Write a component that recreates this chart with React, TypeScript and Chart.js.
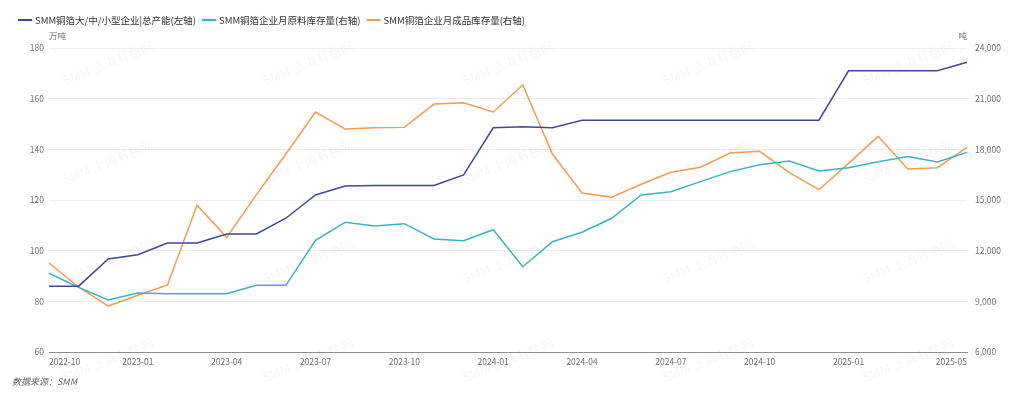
import React, { useEffect, useRef } from "react";
import { Chart, registerables } from "chart.js";

Chart.register(...registerables);

const months = [
  "2022-10", "2022-11", "2022-12", "2023-01", "2023-02", "2023-03", "2023-04", "2023-05",
  "2023-06", "2023-07", "2023-08", "2023-09", "2023-10", "2023-11", "2023-12", "2024-01",
  "2024-02", "2024-03", "2024-04", "2024-05", "2024-06", "2024-07", "2024-08", "2024-09",
  "2024-10", "2024-11", "2024-12", "2025-01", "2025-02", "2025-03", "2025-04", "2025-05",
];

const shownMonths = [
  "2022-10", "2023-01", "2023-04", "2023-07", "2023-10", "2024-01",
  "2024-04", "2024-07", "2024-10", "2025-01", "2025-05",
];

// 万吨 (left axis)
const capacity = [
  86, 86, 96.7, 98.4, 103, 103, 106.6, 106.6, 112.8, 122, 125.5, 125.7, 125.7, 125.7, 129.9, 148.5,
  148.9, 148.5, 151.5, 151.5, 151.5, 151.5, 151.5, 151.5, 151.5, 151.5, 151.5, 171, 171, 171, 171, 174.4,
];

// 吨 (right axis)
const rawStock = [
  10660, 9830, 9080, 9490, 9450, 9450, 9450, 9950, 9950, 12610, 13680, 13460, 13600, 12690, 12590, 13240,
  11050, 12530, 13090, 13920, 15300, 15490, 16090, 16680, 17090, 17310, 16720, 16910, 17270, 17570, 17250, 17820,
];

const finishedStock = [
  11270, 9850, 8720, 9360, 9970, 14690, 12790, 15300, 17720, 20210, 19200, 19280, 19300, 20680, 20760, 20210,
  21810, 17720, 15410, 15160, 15930, 16640, 16940, 17780, 17880, 16620, 15610, 17170, 18770, 16840, 16910, 18120,
];

const seriesNames = [
  "SMM铜箔大/中/小型企业|总产能(左轴)",
  "SMM铜箔企业月原料库存量(右轴)",
  "SMM铜箔企业月成品库存量(右轴)",
];
const seriesColors = ["#3f4a94", "#3ab3c7", "#f39c50"];

const leftUnit = "万吨";
const rightUnit = "吨";
const sourceText = "数据来源：SMM";
const watermarkText = "SMM 上海有色网";

const FONT = "'Noto Sans CJK SC', 'Noto Sans', sans-serif";

export default function App() {
  const ref = useRef<HTMLCanvasElement | null>(null);

  useEffect(() => {
    if (!ref.current) return;

    const overlay = {
      id: "overlay",
      beforeDatasetsDraw(chart: any) {
        const ctx = chart.ctx;
        ctx.save();
        ctx.font = `13px ${FONT}`;
        ctx.fillStyle = "rgba(0,0,0,0.035)";
        ctx.textAlign = "center";
        ctx.textBaseline = "middle";
        for (let cx = 108; cx < 1024; cx += 200) {
          for (let cy = 63; cy < 399; cy += 99) {
            ctx.save();
            ctx.translate(cx, cy);
            ctx.rotate(-0.38);
            ctx.fillText(watermarkText, 0, 0);
            ctx.restore();
          }
        }
        ctx.restore();
      },
      afterDraw(chart: any) {
        const ctx = chart.ctx;
        const area = chart.chartArea;
        const x = chart.scales.x;
        ctx.save();
        // legend
        ctx.font = `9.5px ${FONT}`;
        ctx.textBaseline = "middle";
        let lx = 18;
        const ly = 20;
        seriesNames.forEach((name, i) => {
          ctx.strokeStyle = seriesColors[i];
          ctx.lineWidth = 2;
          ctx.beginPath();
          ctx.moveTo(lx, ly);
          ctx.lineTo(lx + 14, ly);
          ctx.stroke();
          ctx.fillStyle = "#333";
          ctx.textAlign = "left";
          ctx.fillText(name, lx + 17, ly);
          lx += 17 + ctx.measureText(name).width + 6;
        });
        // units
        ctx.font = `8.5px ${FONT}`;
        ctx.fillStyle = "#6e7079";
        ctx.textAlign = "left";
        ctx.fillText(leftUnit, area.left, 36);
        ctx.textAlign = "right";
        ctx.fillText(rightUnit, area.right, 36);
        // x labels
        ctx.font = `8.5px ${FONT}`;
        ctx.textBaseline = "top";
        months.forEach((m, i) => {
          if (!shownMonths.includes(m)) return;
          const px = x.getPixelForValue(i);
          ctx.textAlign = i === 0 ? "left" : i === months.length - 1 ? "right" : "center";
          ctx.fillText(m, px, area.bottom + 6);
        });
        // source
        ctx.font = `italic 9px ${FONT}`;
        ctx.fillStyle = "#666";
        ctx.textAlign = "left";
        ctx.textBaseline = "middle";
        ctx.fillText(sourceText, 12, 382);
        ctx.restore();
      },
    };

    const chart = new Chart(ref.current, {
      type: "line",
      data: {
        labels: months,
        datasets: [
          {
            label: seriesNames[0],
            data: capacity,
            yAxisID: "y",
            borderColor: seriesColors[0],
            backgroundColor: seriesColors[0],
            borderWidth: 1.5,
            pointRadius: 0,
            tension: 0,
          },
          {
            label: seriesNames[1],
            data: rawStock,
            yAxisID: "y1",
            borderColor: seriesColors[1],
            backgroundColor: seriesColors[1],
            borderWidth: 1.5,
            pointRadius: 0,
            tension: 0,
          },
          {
            label: seriesNames[2],
            data: finishedStock,
            yAxisID: "y1",
            borderColor: seriesColors[2],
            backgroundColor: seriesColors[2],
            borderWidth: 1.5,
            pointRadius: 0,
            tension: 0,
          },
        ],
      },
      options: {
        responsive: false,
        animation: false,
        devicePixelRatio: 1,
        layout: { padding: { top: 48, bottom: 47, left: 0, right: 0 } },
        plugins: {
          legend: { display: false },
          tooltip: { enabled: false },
        },
        scales: {
          x: {
            type: "category",
            offset: false,
            grid: { display: false },
            border: { display: true, color: "#8e9099", width: 1 },
            ticks: { display: false },
            afterFit: (s: any) => { s.height = 0; },
          },
          y: {
            position: "left",
            min: 60,
            max: 180,
            ticks: {
              stepSize: 20,
              color: "#6e7079",
              font: { size: 8.5, family: FONT },
              padding: 5,
            },
            grid: { color: "#ececec", drawTicks: false, lineWidth: 1 },
            border: { display: false },
            afterFit: (s: any) => { s.width = 49; },
          },
          y1: {
            position: "right",
            min: 6000,
            max: 24000,
            ticks: {
              stepSize: 3000,
              color: "#6e7079",
              font: { size: 8.5, family: FONT },
              padding: 8,
              callback: (v: any) => Number(v).toLocaleString("en-US"),
            },
            grid: { display: false, drawTicks: false },
            border: { display: false },
            afterFit: (s: any) => { s.width = 57; },
          },
        },
      },
      plugins: [overlay],
    });

    return () => chart.destroy();
  }, []);

  return (
    <div style={{ position: "absolute", left: 0, top: 0, width: 1024, height: 399, background: "#fff" }}>
      <canvas ref={ref} width={1024} height={399} style={{ display: "block" }} />
    </div>
  );
}
